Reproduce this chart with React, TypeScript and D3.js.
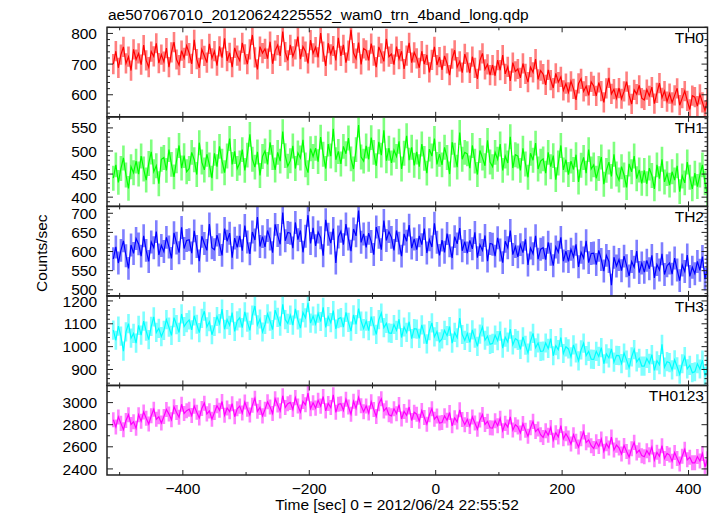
import React from "react";
import * as d3 from "d3";

const TITLE = "ae507067010_20120624225552_wam0_trn_4band_long.qdp";
const X_LABEL = "Time [sec] 0 = 2012/06/24 22:55:52";
const Y_LABEL = "Counts/sec";

const bandNames = ["TH0", "TH1", "TH2", "TH3", "TH0123"];
const bandColors = ["#ff0000", "#00ff00", "#0000ff", "#00ffff", "#ff00ff"];
const yDomains = [[528, 820], [380, 574], [484, 718], [830, 1222], [2345, 3155]];
const yMajorTicks = [
  [600, 700, 800],
  [400, 450, 500, 550],
  [500, 550, 600, 650, 700],
  [900, 1000, 1100, 1200],
  [2400, 2600, 2800, 3000],
];
const yMinorSteps = [20, 10, 10, 20, 100];
const xDomain = [-520, 430];
const xMajorTicks = [-400, -200, 0, 200, 400];
const xMinorTicks = [-500, -300, -100, 100, 300];
const T0 = -510;
const DT = 4;
const errors = [33, 27, 30, 42, 68];

const th0 = [
  700, 742, 688, 731, 756, 702, 724, 679, 748, 715,
  735, 698, 762, 712, 690, 741, 725, 768, 703, 731,
  708, 752, 690, 738, 772, 715, 697, 744, 720, 760,
  736, 701, 779, 716, 688, 748, 727, 705, 766, 719,
  742, 695, 758, 721, 784, 710, 737, 690, 753, 728,
  711, 769, 732, 700, 748, 795, 722, 683, 757, 736,
  750, 718, 773, 701, 744, 762, 727, 806, 739, 712,
  763, 725, 748, 790, 716, 757, 741, 702, 778, 735,
  755, 722, 801, 741, 694, 768, 732, 759, 712, 786,
  727, 763, 705, 744, 812, 736, 718, 770, 699, 751,
  745, 712, 767, 728, 690, 756, 735, 709, 782, 724,
  733, 698, 757, 716, 742, 684, 728, 769, 705, 738,
  719, 688, 742, 700, 730, 673, 714, 756, 697, 723,
  681, 727, 702, 664, 718, 745, 690, 709, 672, 733,
  706, 671, 724, 688, 652, 712, 735, 683, 699, 664,
  697, 662, 713, 680, 729, 668, 691, 645, 705, 676,
  684, 655, 702, 668, 641, 690, 673, 716, 650, 679,
  667, 632, 681, 648, 622, 670, 641, 658, 614, 636,
  608, 644, 619, 583, 637, 652, 611, 628, 598, 642,
  629, 596, 640, 612, 575, 621, 655, 603, 618, 588,
  622, 587, 611, 643, 598, 570, 616, 602, 631, 589,
  583, 617, 596, 625, 571, 606, 638, 590, 612, 578,
  604, 575, 598, 621, 566, 589, 612, 580, 552, 597,
  592, 563, 601, 575, 548, 586, 609, 570, 583, 556,
  574, 559,
];

const th1 = [
  441, 470, 432, 462, 485, 448, 419, 466, 453, 478,
  450, 489, 461, 437, 473, 498, 455, 468, 429, 482,
  486, 458, 503, 471, 444, 479, 512, 463, 490, 455,
  462, 497, 481, 449, 518, 476, 459, 493, 470, 441,
  495, 466, 510, 478, 453, 489, 527, 471, 499, 462,
  474, 503, 458, 491, 536, 482, 465, 498, 447, 488,
  500, 471, 519, 486, 459, 497, 478, 542, 490, 467,
  479, 511, 462, 496, 485, 524, 470, 453, 505, 488,
  506, 477, 530, 493, 462, 515, 489, 548, 481, 499,
  472, 510, 494, 528, 483, 461, 503, 556, 487, 478,
  511, 482, 529, 497, 468, 520, 491, 545, 479, 506,
  474, 502, 488, 521, 461, 495, 533, 480, 508, 469,
  498, 466, 515, 484, 452, 504, 489, 527, 471, 493,
  470, 508, 486, 450, 519, 491, 465, 540, 482, 497,
  494, 463, 512, 478, 449, 501, 485, 468, 523, 476,
  466, 497, 482, 515, 458, 489, 474, 531, 463, 492,
  489, 458, 506, 472, 443, 495, 480, 517, 461, 478,
  483, 452, 497, 466, 490, 438, 474, 512, 459, 481,
  449, 478, 460, 492, 433, 469, 486, 452, 503, 461,
  470, 441, 462, 487, 428, 458, 476, 445, 493, 450,
  437, 466, 448, 421, 472, 455, 489, 440, 459, 430,
  458, 429, 463, 447, 418, 470, 440, 482, 433, 451,
  426, 455, 437, 468, 412, 446, 431, 476, 443, 418,
  452, 423, 448, 470, 431, 405, 457, 438, 481, 426,
  445, 419,
];

const th2 = [
  581, 612, 570, 603, 628, 589, 556, 617, 595, 634,
  620, 588, 641, 603, 574, 625, 610, 652, 591, 616,
  600, 637, 612, 582, 649, 622, 597, 663, 608, 629,
  631, 596, 654, 613, 575, 640, 621, 603, 672, 610,
  605, 643, 618, 590, 660, 627, 648, 584, 635, 611,
  641, 602, 668, 625, 594, 651, 630, 690, 613, 639,
  612, 655, 633, 597, 671, 642, 619, 702, 628, 650,
  648, 609, 676, 631, 655, 598, 640, 695, 621, 662,
  615, 651, 636, 589, 683, 645, 622, 660, 570, 638,
  653, 618, 672, 633, 601, 659, 641, 707, 624, 646,
  611, 648, 626, 592, 664, 637, 605, 681, 629, 652,
  637, 603, 655, 622, 588, 646, 627, 669, 609, 633,
  605, 641, 618, 660, 596, 631, 612, 674, 624, 590,
  630, 598, 647, 615, 583, 639, 620, 661, 602, 626,
  596, 629, 607, 650, 584, 618, 603, 642, 575, 621,
  619, 588, 636, 604, 571, 627, 610, 655, 592, 613,
  586, 618, 597, 632, 565, 609, 594, 641, 580, 606,
  610, 579, 624, 593, 563, 612, 598, 637, 575, 601,
  574, 606, 586, 619, 560, 598, 583, 628, 571, 595,
  596, 566, 603, 579, 549, 590, 574, 512, 585, 562,
  579, 550, 588, 563, 536, 574, 559, 601, 545, 570,
  546, 577, 555, 590, 531, 566, 552, 594, 540, 563,
  570, 541, 583, 552, 524, 565, 548, 591, 535, 559,
  542, 574, 551, 587, 528, 560, 546, 593, 533, 561,
  549, 572,
];

const th3 = [
  1072, 1028, 1090, 1046, 980, 1065, 1101, 1037, 1058, 1015,
  1093, 1050, 1112, 1068, 1031, 1089, 1130, 1062, 1080, 1044,
  1071, 1118, 1085, 1049, 1127, 1096, 1062, 1143, 1088, 1105,
  1117, 1073, 1135, 1098, 1061, 1124, 1155, 1087, 1109, 1052,
  1088, 1132, 1101, 1164, 1076, 1118, 1093, 1149, 1067, 1113,
  1126, 1083, 1152, 1107, 1071, 1138, 1178, 1095, 1121, 1064,
  1097, 1143, 1112, 1075, 1160, 1128, 1090, 1185, 1118, 1102,
  1138, 1094, 1165, 1117, 1081, 1149, 1126, 1192, 1103, 1134,
  1099, 1146, 1110, 1172, 1084, 1131, 1105, 1158, 1077, 1122,
  1127, 1085, 1150, 1106, 1068, 1139, 1097, 1166, 1112, 1079,
  1112, 1070, 1131, 1091, 1054, 1118, 1147, 1083, 1102, 1060,
  1058, 1097, 1071, 1120, 1040, 1086, 1062, 1109, 1035, 1079,
  1077, 1036, 1095, 1055, 1012, 1070, 1104, 1043, 1066, 1021,
  1034, 1071, 1048, 1088, 1015, 1062, 1039, 1125, 1053, 1027,
  1058, 1019, 1073, 1037, 1001, 1055, 1086, 1028, 1046, 1010,
  1014, 1050, 1026, 1068, 993, 1041, 1020, 1077, 1008, 1035,
  1027, 988, 1043, 1006, 972, 1024, 1058, 995, 1016, 979,
  981, 1016, 992, 1035, 960, 1004, 987, 1040, 970, 999,
  990, 955, 1008, 972, 938, 986, 1015, 961, 979, 945,
  944, 979, 957, 996, 925, 968, 951, 990, 932, 962,
  961, 926, 972, 941, 908, 955, 987, 933, 949, 915,
  915, 948, 927, 965, 896, 938, 921, 1010, 910, 934,
  930, 898, 942, 912, 879, 925, 956, 903, 918, 886,
  890, 925, 902, 941, 871, 913, 896, 933, 864, 908,
  895, 872,
];

const th0123 = [
  2845, 2780, 2870, 2812, 2755, 2838, 2891, 2802, 2826, 2768,
  2890, 2832, 2915, 2858, 2806, 2881, 2940, 2849, 2872, 2815,
  2875, 2938, 2896, 2845, 2962, 2910, 2868, 2985, 2902, 2927,
  2940, 2883, 2968, 2912, 2861, 2947, 2995, 2898, 2925, 2850,
  2910, 2972, 2930, 3010, 2885, 2951, 2918, 2990, 2872, 2944,
  2968, 2905, 3005, 2940, 2888, 2975, 3040, 2921, 2956, 2880,
  2940, 3008, 2961, 2902, 3035, 2978, 2925, 3062, 2955, 2990,
  3002, 2938, 3045, 2970, 2915, 3010, 2980, 3085, 2945, 2998,
  2950, 3020, 2968, 3055, 2925, 2992, 2955, 3070, 2912, 2985,
  2990, 2930, 3030, 2960, 2895, 3012, 2948, 3048, 2972, 2918,
  2970, 2905, 3008, 2938, 2875, 2990, 3035, 2925, 2952, 2890,
  2880, 2945, 2900, 2982, 2852, 2920, 2885, 2960, 2838, 2912,
  2895, 2832, 2928, 2865, 2805, 2890, 2945, 2850, 2878, 2815,
  2820, 2880, 2840, 2910, 2790, 2862, 2825, 2935, 2848, 2800,
  2848, 2785, 2870, 2815, 2760, 2842, 2892, 2802, 2830, 2772,
  2770, 2835, 2790, 2858, 2745, 2812, 2778, 2870, 2752, 2800,
  2780, 2725, 2810, 2750, 2695, 2772, 2830, 2738, 2762, 2710,
  2685, 2745, 2705, 2775, 2660, 2728, 2690, 2792, 2672, 2718,
  2680, 2625, 2710, 2650, 2598, 2672, 2735, 2638, 2662, 2610,
  2585, 2645, 2602, 2670, 2560, 2628, 2590, 2688, 2572, 2615,
  2590, 2535, 2612, 2558, 2508, 2582, 2640, 2545, 2570, 2520,
  2510, 2565, 2528, 2598, 2482, 2550, 2515, 2610, 2495, 2540,
  2525, 2470, 2548, 2495, 2445, 2515, 2578, 2482, 2505, 2455,
  2455, 2512, 2472, 2540, 2420, 2492, 2460, 2558, 2438, 2485,
  2465, 2410,
];

const series = [th0, th1, th2, th3, th0123];

const W = 717;
const H = 516;
const LEFT = 107;
const RIGHT = 707.5;
const TOP = 27.3;
const BOTTOM = 475;
const FONT = "'Liberation Sans', Arial, Helvetica, sans-serif";
const FRAME = "#222";

export default function App() {
  const panelH = (BOTTOM - TOP) / series.length;
  const x = d3.scaleLinear().domain(xDomain).range([LEFT, RIGHT]);

  return (
    <svg
      width={W}
      height={H}
      style={{ position: "absolute", left: 0, top: 0, background: "#fff" }}
      fontFamily={FONT}
    >
      <rect x={0} y={0} width={W} height={H} fill="#fff" />
      <text x={108} y={19.5} fontSize={15.5} fill="#000">
        {TITLE}
      </text>
      {series.map((vals, p) => {
        const top = TOP + p * panelH;
        const bot = top + panelH;
        const y = d3.scaleLinear().domain(yDomains[p]).range([bot, top]);
        const tx = (i: number) => x(T0 + i * DT);
        const line = d3
          .line<number>()
          .x((_, i) => tx(i))
          .y((v) => y(v));
        const err = errors[p];
        const errPath = vals
          .map((v, i) => `M${tx(i).toFixed(2)},${y(v + err).toFixed(2)}V${y(v - err).toFixed(2)}`)
          .join("");
        const [d0, d1] = yDomains[p];
        const step = yMinorSteps[p];
        const minor = d3
          .range(Math.ceil(d0 / step) * step, d1 + 0.001, step)
          .filter((v) => !yMajorTicks[p].includes(v));
        const clipId = `clip${p}`;
        return (
          <g key={p}>
            <defs>
              <clipPath id={clipId}>
                <rect x={LEFT} y={top} width={RIGHT - LEFT} height={panelH} />
              </clipPath>
            </defs>
            <g clipPath={`url(#${clipId})`}>
              <path d={errPath} stroke={bandColors[p]} strokeOpacity={0.5} strokeWidth={2.6} fill="none" />
              <path d={line(vals) || ""} stroke={bandColors[p]} strokeWidth={1.2} fill="none" />
            </g>
            {yMajorTicks[p].map((v) => (
              <g key={`M${v}`}>
                <line x1={LEFT} x2={LEFT + 6} y1={y(v)} y2={y(v)} stroke={FRAME} strokeWidth={1} />
                <line x1={RIGHT} x2={RIGHT - 6} y1={y(v)} y2={y(v)} stroke={FRAME} strokeWidth={1} />
                <text x={97} y={y(v)} dy="0.36em" textAnchor="end" fontSize={15.5} fill="#000">
                  {v}
                </text>
              </g>
            ))}
            {minor.map((v) => (
              <g key={`m${v}`}>
                <line x1={LEFT} x2={LEFT + 3} y1={y(v)} y2={y(v)} stroke={FRAME} strokeWidth={1} />
                <line x1={RIGHT} x2={RIGHT - 3} y1={y(v)} y2={y(v)} stroke={FRAME} strokeWidth={1} />
              </g>
            ))}
            {xMajorTicks.map((t) => (
              <g key={`xM${t}`}>
                <line x1={x(t)} x2={x(t)} y1={top} y2={top + 5} stroke={FRAME} strokeWidth={1} />
                <line x1={x(t)} x2={x(t)} y1={bot} y2={bot - 5} stroke={FRAME} strokeWidth={1} />
              </g>
            ))}
            {xMinorTicks.map((t) => (
              <g key={`xm${t}`}>
                <line x1={x(t)} x2={x(t)} y1={top} y2={top + 3} stroke={FRAME} strokeWidth={1} />
                <line x1={x(t)} x2={x(t)} y1={bot} y2={bot - 3} stroke={FRAME} strokeWidth={1} />
              </g>
            ))}
            <rect x={LEFT} y={top} width={RIGHT - LEFT} height={panelH} fill="none" stroke={FRAME} strokeWidth={1.5} />
            <text x={704} y={top + 15.7} textAnchor="end" fontSize={15.5} fill="#000">
              {bandNames[p]}
            </text>
          </g>
        );
      })}
      {xMajorTicks.map((t) => (
        <text key={`xl${t}`} x={x(t)} y={494} textAnchor="middle" fontSize={15.5} fill="#000">
          {t < 0 ? `\u2212${Math.abs(t)}` : `${t}`}
        </text>
      ))}
      <text x={397} y={509.5} textAnchor="middle" fontSize={15.5} fill="#000">
        {X_LABEL}
      </text>
      <text
        transform={`translate(47, ${(TOP + BOTTOM) / 2 + 2}) rotate(-90)`}
        textAnchor="middle"
        fontSize={15.5}
        fill="#000"
      >
        {Y_LABEL}
      </text>
    </svg>
  );
}
